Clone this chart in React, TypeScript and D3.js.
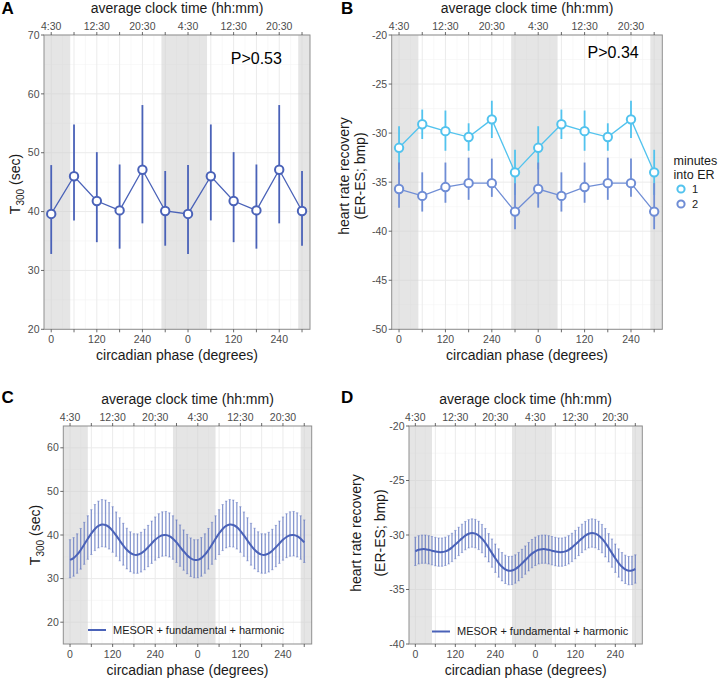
import React from "react";
import * as d3 from "d3";

// ---------------- data ----------------
const phaseDeg = [0, 60, 120, 180, 240, 300, 360, 420, 480, 540, 600, 660];
const clockLabels = ["4:30", "", "12:30", "", "20:30", "", "4:30", "", "12:30", "", "20:30", ""];
const phaseLabels = ["0", "", "120", "", "240", "", "0", "", "120", "", "240", ""];

// Panel A: T300 (sec), double plotted
const t300Mean = [39.6, 46.0, 41.8, 40.2, 47.1, 40.1, 39.6, 46.0, 41.8, 40.2, 47.1, 40.1];
const t300Low = [32.8, 38.5, 34.8, 33.7, 38.0, 34.2, 32.8, 38.5, 34.8, 33.7, 38.0, 34.2];
const t300High = [47.9, 54.8, 50.1, 48.0, 58.1, 46.9, 47.9, 54.8, 50.1, 48.0, 58.1, 46.9];

// Panel B: heart rate recovery, minute 1 and minute 2
const hrr1Mean = [-31.5, -29.1, -29.8, -30.4, -28.6, -34.0, -31.5, -29.1, -29.8, -30.4, -28.6, -34.0];
const hrr1Low = [-33.7, -30.6, -31.8, -31.8, -30.5, -36.3, -33.7, -30.6, -31.8, -31.8, -30.5, -36.3];
const hrr1High = [-29.3, -27.6, -27.7, -29.0, -26.7, -31.7, -29.3, -27.6, -27.7, -29.0, -26.7, -31.7];
const hrr2Mean = [-35.7, -36.4, -35.5, -35.1, -35.1, -38.0, -35.7, -36.4, -35.5, -35.1, -35.1, -38.0];
const hrr2Low = [-37.6, -38.0, -37.1, -36.8, -36.5, -39.8, -37.6, -38.0, -37.1, -36.8, -36.5, -39.8];
const hrr2High = [-33.0, -34.0, -33.0, -32.5, -32.6, -35.1, -33.0, -34.0, -33.0, -32.5, -32.6, -35.1];
const erMinutes = ["1", "2"];

// Panels C/D: fitted curves (MESOR + fundamental + harmonic), one cycle every 10 degrees
const fitPhaseStep = 10;
const t300Fit = [34.30, 34.71, 35.48, 36.56, 37.81, 39.13, 40.36, 41.39, 42.09, 42.40, 42.30, 41.80,
  40.96, 39.90, 38.73, 37.60, 36.61, 35.89, 35.50, 35.47, 35.79, 36.40, 37.19, 38.06,
  38.89, 39.54, 39.93, 40.00, 39.72, 39.13, 38.29, 37.29, 36.27, 35.36, 34.66, 34.29];
const t300FitHigh = [38.93, 39.40, 40.27, 41.50, 42.91, 44.41, 45.81, 46.98, 47.77, 48.12, 48.01, 47.44,
  46.49, 45.29, 43.96, 42.68, 41.55, 40.74, 40.29, 40.26, 40.62, 41.31, 42.21, 43.20,
  44.14, 44.88, 45.32, 45.40, 45.08, 44.41, 43.46, 42.32, 41.17, 40.13, 39.34, 38.92];
const t300FitLow = [30.18, 30.54, 31.22, 32.17, 33.27, 34.43, 35.52, 36.42, 37.04, 37.31, 37.22, 36.78,
  36.04, 35.11, 34.08, 33.09, 32.22, 31.58, 31.24, 31.21, 31.50, 32.03, 32.73, 33.49,
  34.22, 34.80, 35.14, 35.20, 34.95, 34.43, 33.70, 32.82, 31.92, 31.12, 30.50, 30.18];
const hrrFit = [-31.50, -31.36, -31.30, -31.30, -31.36, -31.44, -31.52, -31.57, -31.57, -31.50, -31.36, -31.14,
  -30.88, -30.59, -30.31, -30.06, -29.89, -29.82, -29.87, -30.04, -30.33, -30.71, -31.17, -31.66,
  -32.13, -32.57, -32.91, -33.15, -33.27, -33.25, -33.12, -32.90, -32.61, -32.30, -31.99, -31.71];
const hrrFitHalfCI = [1.3];
const fitLegend = "MESOR + fundamental + harmonic";

// night (shaded) bands in circadian degrees
const nightBands = [[-19, 50], [290, 410], [650, 681]];
const phaseDomain = [-19, 681];

// ---------------- style ----------------
const FONT = "'Liberation Sans', Arial, Helvetica, sans-serif";
const BLUE = "#4a62b8";
const CYAN = "#52c3ee";
const MIDBLUE = "#6f8dd5";
const TICK_TEXT = "#4d4d4d";

type Box = { left: number; right: number; top: number; bottom: number };

function Frame({ box, yDomain, yTicks, yMinor, letter, letterX, letterY, children, yLabel }: any) {
  const x = d3.scaleLinear().domain(phaseDomain).range([box.left, box.right]);
  const y = d3.scaleLinear().domain(yDomain).range([box.bottom, box.top]);
  const minorX = phaseDeg.map((p) => p + 30).filter((p) => p < phaseDomain[1]);
  return (
    <g>
      <rect x={box.left} y={box.top} width={box.right - box.left} height={box.bottom - box.top} fill="#fff" />
      {yMinor.map((v: number) => (
        <line key={"ym" + v} x1={box.left} x2={box.right} y1={y(v)} y2={y(v)} stroke="#f3f3f3" strokeWidth={0.6} />
      ))}
      {minorX.map((v: number) => (
        <line key={"xm" + v} x1={x(v)} x2={x(v)} y1={box.top} y2={box.bottom} stroke="#f3f3f3" strokeWidth={0.6} />
      ))}
      {yTicks.map((v: number) => (
        <line key={"yg" + v} x1={box.left} x2={box.right} y1={y(v)} y2={y(v)} stroke="#ebebeb" strokeWidth={1} />
      ))}
      {phaseDeg.map((v: number) => (
        <line key={"xg" + v} x1={x(v)} x2={x(v)} y1={box.top} y2={box.bottom} stroke="#ebebeb" strokeWidth={1} />
      ))}
      {nightBands.map((b, i) => (
        <rect key={"n" + i} x={x(Math.max(b[0], phaseDomain[0]))} y={box.top}
          width={x(Math.min(b[1], phaseDomain[1])) - x(Math.max(b[0], phaseDomain[0]))}
          height={box.bottom - box.top} fill="#cfcfcf" fillOpacity={0.55} />
      ))}
      {children(x, y)}
      <rect x={box.left} y={box.top} width={box.right - box.left} height={box.bottom - box.top}
        fill="none" stroke="#8f8f8f" strokeWidth={1} />
      {/* y axis */}
      {yTicks.map((v: number) => (
        <g key={"yt" + v}>
          <line x1={box.left - 3} x2={box.left} y1={y(v)} y2={y(v)} stroke="#444" strokeWidth={0.8} />
          <text x={box.left - 4.5} y={y(v)} dy="0.35em" textAnchor="end" fontSize={10.5} fill={TICK_TEXT}>{v}</text>
        </g>
      ))}
      {/* bottom axis */}
      {phaseDeg.map((v: number, i: number) => (
        <g key={"xb" + v}>
          <line x1={x(v)} x2={x(v)} y1={box.bottom} y2={box.bottom + 3} stroke="#444" strokeWidth={0.8} />
          <text x={x(v)} y={box.bottom + 13.8} textAnchor="middle" fontSize={10.5} fill={TICK_TEXT}>{phaseLabels[i]}</text>
        </g>
      ))}
      {/* top axis */}
      {phaseDeg.map((v: number, i: number) => (
        <g key={"xt" + v}>
          <line x1={x(v)} x2={x(v)} y1={box.top - 3} y2={box.top} stroke="#444" strokeWidth={0.8} />
          <text x={x(v)} y={box.top - 5.2} textAnchor="middle" fontSize={10.5} fill={TICK_TEXT}>{clockLabels[i]}</text>
        </g>
      ))}
      <text x={(box.left + box.right) / 2} y={box.top - 22} textAnchor="middle" fontSize={14} fill="#1a1a1a">average clock time (hh:mm)</text>
      <text x={(box.left + box.right) / 2} y={box.bottom + 31} textAnchor="middle" fontSize={14} fill="#1a1a1a">circadian phase (degrees)</text>
      <text x={letterX} y={letterY} fontSize={17} fontWeight="bold" fill="#000">{letter}</text>
      {yLabel}
    </g>
  );
}

function T300Label({ cx, cy }: { cx: number; cy: number }) {
  return (
    <g transform={`translate(${cx},${cy}) rotate(-90)`}>
      <text textAnchor="middle" dy="0.35em" fontSize={14} fill="#1a1a1a">
        T<tspan dy={4} fontSize={10}>300</tspan><tspan dy={-4}> (sec)</tspan>
      </text>
    </g>
  );
}

function HrrLabel({ x1, x2, cy }: { x1: number; x2: number; cy: number }) {
  return (
    <g>
      <g transform={`translate(${x1},${cy}) rotate(-90)`}>
        <text textAnchor="middle" dy="0.35em" fontSize={14} fill="#1a1a1a">heart rate recovery</text>
      </g>
      <g transform={`translate(${x2},${cy}) rotate(-90)`}>
        <text textAnchor="middle" dy="0.35em" fontSize={14} fill="#1a1a1a">(ER-ES; bmp)</text>
      </g>
    </g>
  );
}

function PointSeries({ x, y, mean, low, high, color }: any) {
  const line = d3.line<number>().x((_, i) => x(phaseDeg[i])).y((d) => y(d));
  return (
    <g>
      {mean.map((_: number, i: number) => (
        <line key={i} x1={x(phaseDeg[i])} x2={x(phaseDeg[i])} y1={y(low[i])} y2={y(high[i])}
          stroke={color} strokeWidth={1.8} />
      ))}
      <path d={line(mean) || ""} fill="none" stroke={color} strokeWidth={1.3} />
      {mean.map((m: number, i: number) => (
        <circle key={"c" + i} cx={x(phaseDeg[i])} cy={y(m)} r={4.2} fill="#fff" stroke={color} strokeWidth={2} />
      ))}
    </g>
  );
}

function FitSeries({ x, y, fit, low, high }: any) {
  const phases = d3.range(0, phaseDeg[phaseDeg.length - 1] + 1, fitPhaseStep);
  const n = fit.length;
  const vals = phases.map((_, i) => fit[i % n]);
  const lo = phases.map((_, i) => low(i % n));
  const hi = phases.map((_, i) => high(i % n));
  const line = d3.line<number>().x((_, i) => x(phases[i])).y((d) => y(d)).curve(d3.curveCatmullRom);
  return (
    <g>
      {phases.map((p, i) => (
        <g key={i}>
          <line x1={x(p)} x2={x(p)} y1={y(lo[i])} y2={y(hi[i])} stroke={BLUE} strokeOpacity={0.65} strokeWidth={1.3} />
          <line x1={x(p) - 1.2} x2={x(p) + 1.2} y1={y(lo[i])} y2={y(lo[i])} stroke={BLUE} strokeOpacity={0.4} strokeWidth={1} />
          <line x1={x(p) - 1.2} x2={x(p) + 1.2} y1={y(hi[i])} y2={y(hi[i])} stroke={BLUE} strokeOpacity={0.4} strokeWidth={1} />
        </g>
      ))}
      <path d={line(vals) || ""} fill="none" stroke={BLUE} strokeWidth={2} />
    </g>
  );
}

function FitLegend({ x0, y0 }: { x0: number; y0: number }) {
  return (
    <g>
      <line x1={x0} x2={x0 + 18} y1={y0} y2={y0} stroke={BLUE} strokeWidth={2} />
      <text x={x0 + 25} y={y0} dy="0.35em" fontSize={11} fill="#1a1a1a">{fitLegend}</text>
    </g>
  );
}

export default function App() {
  const boxA: Box = { left: 44, right: 310, top: 35, bottom: 329.3 };
  const boxB: Box = { left: 391.7, right: 662.3, top: 35, bottom: 329.3 };
  const boxC: Box = { left: 63.3, right: 311.7, top: 426, bottom: 644 };
  const boxD: Box = { left: 409, right: 642.3, top: 426, bottom: 644 };
  return (
    <svg width={722} height={679} style={{ position: "absolute", left: 0, top: 0, background: "#fff" }}
      fontFamily={FONT}>
      <rect width={722} height={679} fill="#fff" />
      <Frame box={boxA} yDomain={[20, 70]} yTicks={[20, 30, 40, 50, 60, 70]} yMinor={[25, 35, 45, 55, 65]}
        letter="A" letterX={1.5} letterY={14}
        yLabel={<T300Label cx={15} cy={184} />}>
        {(x: any, y: any) => (
          <g>
            <PointSeries x={x} y={y} mean={t300Mean} low={t300Low} high={t300High} color={BLUE} />
            <text x={x(607)} y={y(66.1)} dy="0.35em" textAnchor="end" fontSize={16} fill="#000">P&gt;0.53</text>
          </g>
        )}
      </Frame>
      <Frame box={boxB} yDomain={[-50, -20]} yTicks={[-50, -45, -40, -35, -30, -25, -20]}
        yMinor={[-47.5, -42.5, -37.5, -32.5, -27.5, -22.5]}
        letter="B" letterX={341} letterY={14}
        yLabel={<HrrLabel x1={344} x2={360} cy={176} />}>
        {(x: any, y: any) => (
          <g>
            <PointSeries x={x} y={y} mean={hrr1Mean} low={hrr1Low} high={hrr1High} color={CYAN} />
            <PointSeries x={x} y={y} mean={hrr2Mean} low={hrr2Low} high={hrr2High} color={MIDBLUE} />
            <text x={x(620)} y={y(-21.75)} dy="0.35em" textAnchor="end" fontSize={16} fill="#000">P&gt;0.34</text>
          </g>
        )}
      </Frame>
      {/* legend B */}
      <g>
        <text x={673.5} y={165} fontSize={12.5} fill="#1a1a1a">minutes</text>
        <text x={673.5} y={178.5} fontSize={12.5} fill="#1a1a1a">into ER</text>
        {erMinutes.map((m, i) => (
          <g key={m}>
            <circle cx={681} cy={189 + i * 15} r={3.6} fill="#fff" stroke={i === 0 ? CYAN : MIDBLUE} strokeWidth={2} />
            <text x={692} y={189 + i * 15} dy="0.35em" fontSize={11} fill="#1a1a1a">{m}</text>
          </g>
        ))}
      </g>
      <Frame box={boxC} yDomain={[15, 65]} yTicks={[20, 30, 40, 50, 60]} yMinor={[15, 25, 35, 45, 55, 65]}
        letter="C" letterX={1.5} letterY={403}
        yLabel={<T300Label cx={35} cy={535} />}>
        {(x: any, y: any) => (
          <g>
            <FitSeries x={x} y={y} fit={t300Fit} low={(i: number) => t300FitLow[i]} high={(i: number) => t300FitHigh[i]} />
          </g>
        )}
      </Frame>
      <FitLegend x0={88} y0={630} />
      <Frame box={boxD} yDomain={[-40, -20]} yTicks={[-40, -35, -30, -25, -20]}
        yMinor={[-37.5, -32.5, -27.5, -22.5]}
        letter="D" letterX={341} letterY={403}
        yLabel={<HrrLabel x1={356} x2={380} cy={533} />}>
        {(x: any, y: any) => (
          <g>
            <FitSeries x={x} y={y} fit={hrrFit}
              low={(i: number) => hrrFit[i] - hrrFitHalfCI[0]} high={(i: number) => hrrFit[i] + hrrFitHalfCI[0]} />
          </g>
        )}
      </Frame>
      <FitLegend x0={432} y0={631.5} />
    </svg>
  );
}
